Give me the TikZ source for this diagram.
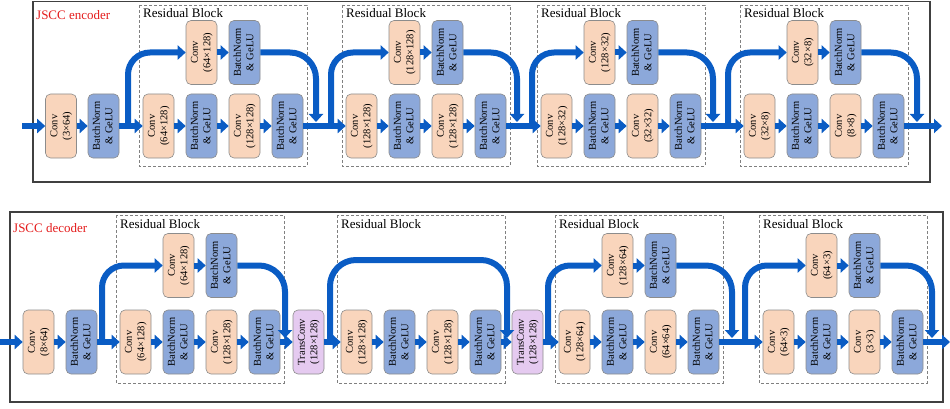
\documentclass[tikz,border=0pt]{standalone}
\usepackage{fontspec}
\setmainfont{Liberation Serif}
\usepackage{tikz}
\usetikzlibrary{arrows.meta}
\definecolor{convc}{RGB}{249,213,188}
\definecolor{bnc}{RGB}{140,168,218}
\definecolor{tconvc}{RGB}{229,202,240}
\definecolor{flowc}{RGB}{10,92,196}
\definecolor{titlec}{RGB}{228,28,28}

\newcommand{\vlab}[2]{\rotatebox{90}{\begin{tabular}{@{}c@{}}#1\\#2\end{tabular}}}
\newcommand{\bnlab}{\vlab{BatchNorm}{\& GeLU}}

\tikzset{
  layer/.style={rounded corners=5pt, draw=black!45, line width=0.6pt,
    minimum width=31pt, minimum height=64pt, inner sep=0pt,
    font=\fontsize{10.5}{12.5}\selectfont},
  conv/.style={layer, fill=convc},
  bn/.style={layer, fill=bnc},
  tconv/.style={layer, fill=tconvc},
  flow/.style={draw=flowc, line width=6pt, -{Triangle[width=14pt,length=8pt]}},
  resframe/.style={draw=gray, dashed, dash pattern=on 3pt off 2pt, line width=0.7pt},
  outer/.style={draw=black!75, line width=1.1pt},
  rbtitle/.style={font=\fontsize{13}{15}\selectfont, inner sep=0pt},
  nettitle/.style={font=\fontsize{13}{15}\selectfont, text=titlec, inner sep=0pt}
}

\begin{document}
\begin{tikzpicture}[x=1pt,y=-1pt]
\useasboundingbox (0,0) rectangle (950,409);

% ---------------- encoder ----------------
\draw[outer] (33,1.5) rectangle (930,182);
\node[nettitle, anchor=base west] (enctitle) at (36,20) {JSCC encoder};
\coordinate (ein) at (22,126);
\coordinate (eout) at (942,126);
\node[conv] (e0) at (61,126) {\vlab{Conv}{(3×64)}};
\node[bn] (e00) at (103.5,126) {\bnlab};

\foreach \i/\x/\a/\m/\u/\d in {1/158.5/64/128/128/316, 2/361.5/128/128/331/517,
                               3/556.5/128/32/532/713, 4/759.5/32/8/728/917} {
  \draw[resframe] (\x-19.5,5) rectangle (\x+148.5,166);
  \node[rbtitle, anchor=base west] (e\i-t) at (\x-15.5,18) {Residual Block};
  % lower path
  \node[conv] (e\i-c1) at (\x,126) {\vlab{Conv}{(\a×\m)}};
  \node[bn] (e\i-n1) at (\x+43,126) {\bnlab};
  \node[conv] (e\i-c2) at (\x+86,126) {\vlab{Conv}{(\m×\m)}};
  \node[bn] (e\i-n2) at (\x+129,126) {\bnlab};
  \draw[flow] (e\i-c1) -- (e\i-n1);
  \draw[flow] (e\i-n1) -- (e\i-c2);
  \draw[flow] (e\i-c2) -- (e\i-n2);
  % upper path
  \node[conv] (e\i-u1) at (\x+43,52.5) {\vlab{Conv}{(\a×\m)}};
  \node[bn] (e\i-u2) at (\x+86,52.5) {\bnlab};
  \draw[flow] (e\i-u1) -- (e\i-u2);
  \coordinate (e\i-up) at (\u,126);
  \coordinate (e\i-dn) at (\d,122);
  \draw[flow, rounded corners=22pt] (e\i-up) |- (e\i-u1);
  \draw[flow, rounded corners=26pt] (e\i-u2) -| (e\i-dn);
}
\foreach \p/\q in {ein/e0, e0/e00, e00/e1-c1, e1-n2/e2-c1, e2-n2/e3-c1,
                   e3-n2/e4-c1, e4-n2/eout}
  \draw[flow] (\p) -- (\q);

% ---------------- decoder ----------------
\draw[outer] (10,212) rectangle (943,402);
\node[nettitle, anchor=base west] (dectitle) at (13,232) {JSCC decoder};
\coordinate (din) at (0,342);
\coordinate (dout) at (950,342);
\node[conv] (d0) at (38.5,342) {\vlab{Conv}{(8×64)}};
\node[bn] (d00) at (81.5,342) {\bnlab};
\node[tconv] (t1) at (308.5,342) {\vlab{TransConv}{(128×128)}};
\node[tconv] (t2) at (527.5,342) {\vlab{TransConv}{(128×128)}};

\foreach \i/\x/\a/\m/\u/\d in {1/135.5/64/128/102/285, 2/356.5/128/128/330/507,
                               3/574.5/128/64/548/732, 4/778.5/64/3/745/932} {
  \draw[resframe] (\x-19.5,215) rectangle (\x+148.5,383);
  \node[rbtitle, anchor=base west] (d\i-t) at (\x-15.5,228) {Residual Block};
  % lower path
  \node[conv] (d\i-c1) at (\x,342) {\vlab{Conv}{(\a×\m)}};
  \node[bn] (d\i-n1) at (\x+43,342) {\bnlab};
  \node[conv] (d\i-c2) at (\x+86,342) {\vlab{Conv}{(\m×\m)}};
  \node[bn] (d\i-n2) at (\x+129,342) {\bnlab};
  \draw[flow] (d\i-c1) -- (d\i-n1);
  \draw[flow] (d\i-n1) -- (d\i-c2);
  \draw[flow] (d\i-c2) -- (d\i-n2);
  \coordinate (d\i-up) at (\u,342);
  \coordinate (d\i-dn) at (\d,338);
  \ifnum\i=2
    % plain skip over the block
    \coordinate (d\i-top) at (\x+60,260);
    \draw[flow, rounded corners=26pt] (d\i-up) |- (d\i-top) -| (d\i-dn);
  \else
    % upper path
    \node[conv] (d\i-u1) at (\x+43,265.5) {\vlab{Conv}{(\a×\m)}};
    \node[bn] (d\i-u2) at (\x+86,265.5) {\bnlab};
    \draw[flow] (d\i-u1) -- (d\i-u2);
    \draw[flow, rounded corners=22pt] (d\i-up) |- (d\i-u1);
    \draw[flow, rounded corners=26pt] (d\i-u2) -| (d\i-dn);
  \fi
}
\foreach \p/\q in {din/d0, d0/d00, d00/d1-c1, d1-n2/t1, t1/d2-c1, d2-n2/t2,
                   t2/d3-c1, d3-n2/d4-c1, d4-n2/dout}
  \draw[flow] (\p) -- (\q);
\end{tikzpicture}
\end{document}
